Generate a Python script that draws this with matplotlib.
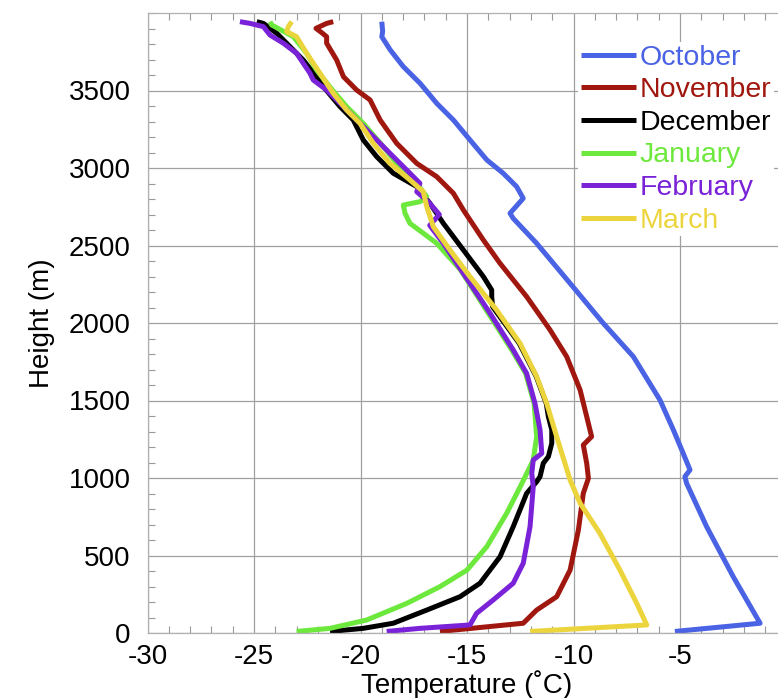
import matplotlib
matplotlib.use("Agg")
import matplotlib.pyplot as plt
from matplotlib.ticker import MultipleLocator

plt.rcParams['font.family'] = ['Liberation Sans', 'DejaVu Sans']
plt.rcParams['axes.unicode_minus'] = False

months = ["October", "November", "December", "January", "February", "March"]
colors = ["#4a62e4", "#a0170f", "#000000", "#6de83c", "#7a22d8", "#ecd53c"]

oct_t = [-19.0, -18.96, -19.0, -18.6, -17.99, -17.2, -16.42, -15.64, -14.86, -14.07, -13.3, -12.67,
         -12.36, -12.98, -12.83, -11.73, -10.16, -8.6, -7.19, -5.94, -5.31, -4.85, -4.53, -4.77,
         -4.69, -3.75, -2.5, -1.24, -5.24]
oct_h = [3944, 3880, 3847, 3761, 3654, 3546, 3417, 3310, 3181, 3052, 2966, 2880,
         2804, 2708, 2675, 2514, 2256, 1998, 1783, 1503, 1310, 1159, 1052, 1009,
         966, 686, 363, 63, 10]

nov_t = [-21.28, -21.59, -22.09, -21.82, -21.59, -21.59, -21.12, -20.8, -20.18, -19.55, -19.08,
         -18.3, -17.36, -16.42, -15.64, -15.17, -14.23, -13.45, -12.2, -11.1, -10.32, -9.69,
         -9.38, -9.15, -9.54, -9.38, -9.3, -9.54, -9.77, -10.16, -10.79, -11.73, -12.36, -16.27]
nov_h = [3944, 3933, 3901, 3873, 3847, 3805, 3697, 3589, 3503, 3439, 3310,
         3159, 3030, 2944, 2837, 2729, 2535, 2385, 2170, 1955, 1783, 1568,
         1396, 1267, 1213, 1095, 998, 901, 665, 406, 234, 148, 63, 10]

dec_t = [-24.87, -24.56, -23.93, -23.31, -22.69, -22.2, -21.75, -20.96, -20.34, -19.87, -19.24,
         -18.46, -17.36, -16.74, -16.11, -15.17, -14.23, -13.84, -13.84, -13.8, -12.55, -11.75,
         -11.28, -11.18, -11.02, -11.02, -11.18, -11.42, -11.57, -11.73, -12.2, -12.83, -13.45,
         -14.39, -15.33, -16.89, -18.46, -19.87, -21.43]
dec_h = [3944, 3933, 3869, 3783, 3697, 3611, 3525, 3396, 3310, 3181, 3073,
         2966, 2880, 2772, 2643, 2471, 2299, 2213, 2170, 2105, 1869, 1654,
         1482, 1396, 1310, 1224, 1138, 1095, 1009, 976, 901, 686, 492,
         321, 234, 148, 63, 30, 10]

jan_t = [-24.25, -24.17, -23.15, -22.53, -22.06, -21.3, -20.65, -19.87, -18.93, -18.3, -17.36,
         -16.89, -17.2, -17.99, -17.91, -17.68, -17.05, -16.42, -15.3, -14.0, -12.9, -12.25,
         -11.85, -11.73, -11.89, -12.04, -12.5, -13.14, -14.07, -15.0, -16.27, -17.83, -19.71,
         -21.43, -23.0]
jan_h = [3944, 3923, 3847, 3740, 3632, 3500, 3396, 3288, 3138, 3030, 2901,
         2815, 2783, 2761, 2708, 2643, 2579, 2514, 2342, 2063, 1826, 1675,
         1482, 1267, 1116, 1073, 944, 772, 557, 406, 299, 191, 84,
         30, 10]

feb_t = [-25.66, -25.19, -24.56, -24.25, -23.62, -23.0, -22.37, -22.22, -21.59, -21.12, -20.49,
         -19.55, -18.62, -17.68, -17.21, -17.36, -16.8, -16.3, -16.75, -16.11, -15.17, -13.92,
         -12.83, -12.2, -11.81, -11.57, -11.49, -11.89, -11.96, -11.89, -12.04, -12.36, -12.83,
         -13.77, -14.55, -14.86, -17.21, -18.77]
feb_h = [3944, 3933, 3912, 3858, 3805, 3740, 3611, 3568, 3503, 3439, 3353,
         3224, 3095, 2966, 2901, 2847, 2780, 2700, 2630, 2514, 2320, 2063,
         1826, 1675, 1482, 1310, 1159, 1116, 1030, 944, 686, 450, 321,
         213, 127, 52, 30, 10]

mar_t = [-23.23, -23.39, -23.47, -23.0, -22.53, -21.9, -21.28, -20.65, -20.02, -19.4, -18.62,
         -17.68, -17.05, -16.89, -16.58, -15.8, -14.86, -13.61, -12.51, -11.73, -11.26, -10.79,
         -10.16, -9.69, -8.76, -7.82, -7.03, -6.56, -12.04]
mar_h = [3944, 3912, 3880, 3847, 3740, 3611, 3482, 3374, 3288, 3159, 3030,
         2923, 2847, 2750, 2621, 2471, 2299, 2084, 1869, 1654, 1482, 1267,
         987, 837, 643, 406, 191, 52, 10]

series = [(oct_t, oct_h), (nov_t, nov_h), (dec_t, dec_h),
          (jan_t, jan_h), (feb_t, feb_h), (mar_t, mar_h)]

x_ticks = [-30, -25, -20, -15, -10, -5]
y_ticks = [0, 500, 1000, 1500, 2000, 2500, 3000, 3500]

W, H = 778, 698
fig = plt.figure(figsize=(W / 100, H / 100), dpi=100)
ax = fig.add_axes([147.5 / W, 65 / H, 639 / W, 620 / H])

for (t, h), c, m in zip(series, colors, months):
    ax.plot(t, h, color=c, lw=3.6, label=m, solid_joinstyle='round', solid_capstyle='butt')

ax.set_xlim(-30, 0)
ax.set_ylim(0, 4000)
ax.set_xticks(x_ticks)
ax.set_yticks(y_ticks)
ax.xaxis.set_minor_locator(MultipleLocator(1))
ax.yaxis.set_minor_locator(MultipleLocator(100))
ax.tick_params(which='both', direction='in', top=True, right=True, color='#999999')
ax.tick_params(which='major', length=0, labelsize=20)
ax.tick_params(axis='y', which='major', pad=12)
ax.tick_params(axis='x', which='major', pad=8)
ax.tick_params(which='minor', length=5, width=0.8)
ax.grid(True, which='major', color='#a0a0a0', lw=0.9)
ax.set_axisbelow(True)
for s in ax.spines.values():
    s.set_color('#b0b0b0')
    s.set_linewidth(0.9)

ax.set_xlabel("Temperature (˚C)", fontsize=20, labelpad=0)
ax.set_ylabel("Height (m)", fontsize=20, labelpad=10)

leg = ax.legend(loc='upper left', bbox_to_anchor=(578 / W, 1 - 42 / H),
                bbox_transform=fig.transFigure, fontsize=20.5, frameon=True,
                facecolor='white', edgecolor='none', framealpha=1, borderpad=0.1,
                handlelength=1.95, handletextpad=0.1, labelspacing=0.23, borderaxespad=0)
for txt, c in zip(leg.get_texts(), colors):
    txt.set_color(c)

fig.savefig("out.png", dpi=100)
